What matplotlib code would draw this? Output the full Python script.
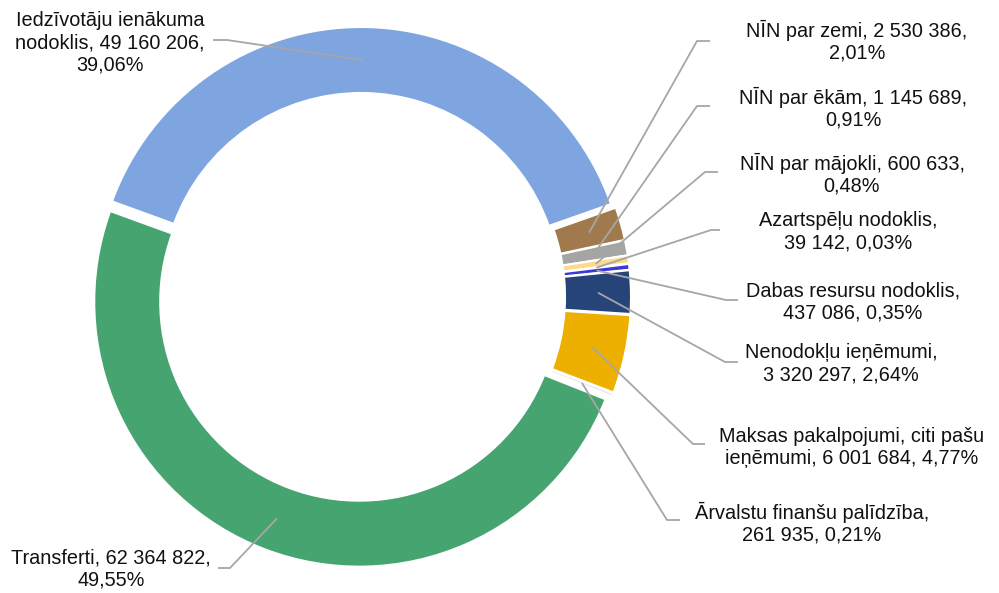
import numpy as np
import matplotlib
matplotlib.use('agg')
from matplotlib import pyplot as plt

plt.rcParams['font.family'] = ['Liberation Sans', 'DejaVu Sans']

# Pašvaldības ieņēmumu struktūra
names = [
    "Iedzīvotāju ienākuma\nnodoklis",
    "NĪN par zemi",
    "NĪN par ēkām",
    "NĪN par mājokli",
    "Azartspēļu nodoklis",
    "Dabas resursu nodoklis",
    "Nenodokļu ieņēmumi",
    "Maksas pakalpojumi, citi pašu\nieņēmumi",
    "Ārvalstu finanšu palīdzība",
    "Transferti",
]
values = [49160206, 2530386, 1145689, 600633, 39142, 437086, 3320297, 6001684, 261935, 62364822]
colors = ['#7FA5E1', '#A07A4C', '#A5A5A5', '#FFD88A', '#F2C9A0', '#3A3AD6',
          '#264478', '#EDB000', '#E6E6E6', '#46A470']
# where the label wraps: after the value, after the name, or not at all
wrap = ['value', 'value', 'value', 'value', 'name', 'name', 'name', 'none', 'name', 'value']

# label layout: text centre (px from left, px from top), elbow segment (x_text, x_elbow, y)
label_pos = [(110, 43), (857, 41), (853, 108), (852, 174), (848, 232),
             (853, 302), (841, 364), (852, 447), (812, 523), (111, 569)]
elbows = [(213, 227, 40), (710, 697, 41), (710, 697, 106), (718, 705, 172), (720, 711, 230),
          (738, 726, 300), (738, 725, 362), (705, 693, 444), (680, 667, 520), (218, 230, 568)]

W, H = 999, 593
fig = plt.figure(figsize=(W / 100, H / 100), dpi=100)
ax = fig.add_axes([0, 0, 1, 1])

cx, cy = 361, H - 297
radius, ring = 265, 66
wedges, _ = ax.pie(values, colors=colors, startangle=160, counterclock=False,
                   radius=radius, center=(cx, cy), explode=[5] * len(values),
                   wedgeprops=dict(width=ring, edgecolor='white', linewidth=1.5))
ax.set_xlim(0, W)
ax.set_ylim(0, H)
ax.set_aspect('equal')
ax.axis('off')


def fmt_num(v):
    return '{:,}'.format(v).replace(',', ' ')


total = sum(values)
for i, w in enumerate(wedges):
    pct = '{:.2f}%'.format(100.0 * values[i] / total).replace('.', ',')
    num = fmt_num(values[i])
    if wrap[i] == 'value':
        text = '{}, {},\n{}'.format(names[i], num, pct)
    elif wrap[i] == 'name':
        text = '{},\n{}, {}'.format(names[i], num, pct)
    else:
        text = '{}, {}, {}'.format(names[i], num, pct)
    tx, ty = label_pos[i]
    ax.text(tx, H - ty, text, ha='center', va='center', multialignment='center',
            fontsize=14.3, linespacing=1.2, color='#111111')

    # leader line from middle of the ring to the label
    ang = np.deg2rad((w.theta1 + w.theta2) / 2)
    r_mid = w.r - w.width / 2
    ax_, ay_ = w.center[0] + r_mid * np.cos(ang), w.center[1] + r_mid * np.sin(ang)
    x0, x1, ey = elbows[i]
    ax.plot([x0, x1, ax_], [H - ey, H - ey, ay_], color='#A6A6A6', linewidth=1.3,
            solid_capstyle='butt', zorder=5)

plt.savefig('out.png', dpi=100)
